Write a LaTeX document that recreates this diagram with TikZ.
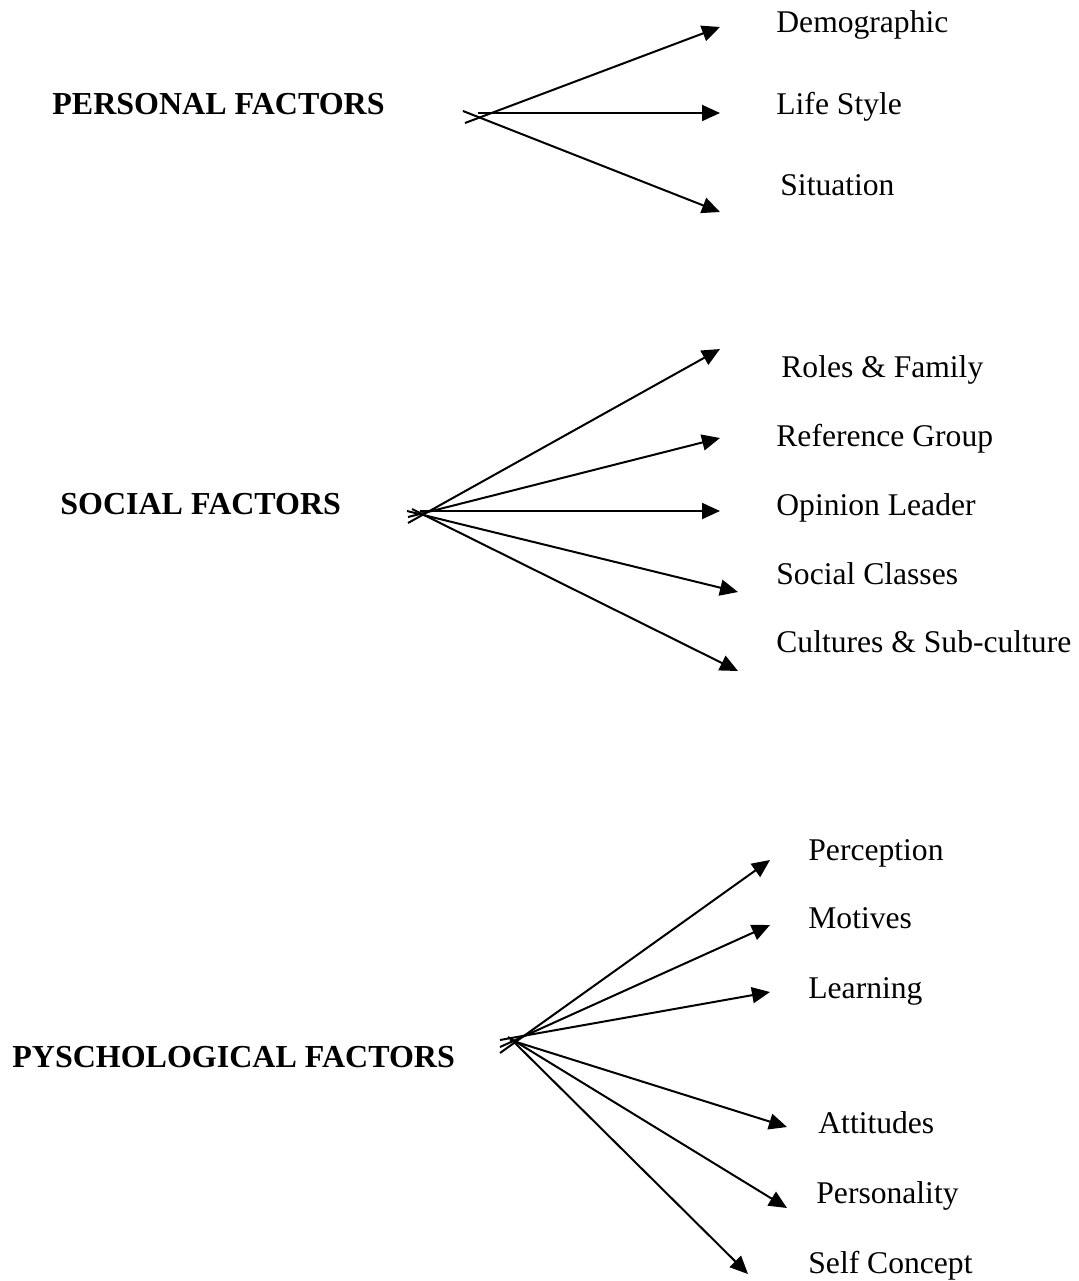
\documentclass[tikz,border=0pt]{standalone}
\usepackage{fontspec}
\setmainfont{Liberation Serif}
\usetikzlibrary{arrows.meta, positioning}

\tikzset{
    lbl/.style={anchor=base west, inner sep=0pt, font=\fontsize{15.8}{19}\selectfont},
    head/.style={lbl, font=\fontsize{16}{19}\selectfont\bfseries},
    fan/.style={line width=1pt, -{Triangle[length=9pt, width=8pt]}}
}

\begin{document}
\begin{tikzpicture}[x=0.5pt, y=-0.5pt]
        \useasboundingbox (0, 0) rectangle (1079, 1281);

        % personal
        \node[head] (pers) at (52, 114) {PERSONAL FACTORS};
        \node[lbl] (demo) at (776, 32) {Demographic};
        \node[lbl] (life) at (776, 114) {Life Style};
        \node[lbl] (situ) at (780, 195) {Situation};

        \coordinate (p1) at (465, 123);
        \coordinate (p2) at (478, 113);
        \coordinate (p3) at (463, 111);
        \coordinate (t1) at (720, 27);
        \coordinate (t2) at (720, 113);
        \coordinate (t3) at (720, 212);

        \draw[fan] (p1) to (t1);
        \draw[fan] (p2) to (t2);
        \draw[fan] (p3) to (t3);

        % social
        \node[head] (soc) at (60, 514) {SOCIAL FACTORS};
        \node[lbl] (role) at (781, 377) {Roles \& Family};
        \node[lbl] (refg) at (776, 446) {Reference Group};
        \node[lbl] (opin) at (776, 515) {Opinion Leader};
        \node[lbl] (clas) at (776, 584) {Social Classes};
        \node[lbl] (cult) at (776, 652) {Cultures \& Sub-culture};

        \coordinate (s1) at (408, 523);
        \coordinate (s2) at (408, 517);
        \coordinate (s3) at (420, 511);
        \coordinate (s4) at (407, 511);
        \coordinate (s5) at (412, 509);
        \coordinate (u1) at (720, 349);
        \coordinate (u2) at (720, 438);
        \coordinate (u3) at (720, 511);
        \coordinate (u4) at (738, 592);
        \coordinate (u5) at (738, 671);

        \draw[fan] (s1) to (u1);
        \draw[fan] (s2) to (u2);
        \draw[fan] (s3) to (u3);
        \draw[fan] (s4) to (u4);
        \draw[fan] (s5) to (u5);

        % psychological
        \node[head] (psy) at (12, 1067) {PYSCHOLOGICAL FACTORS};
        \node[lbl] (perc) at (808, 860) {Perception};
        \node[lbl] (moti) at (808, 928) {Motives};
        \node[lbl] (lear) at (808, 998) {Learning};
        \node[lbl] (atti) at (818, 1133) {Attitudes};
        \node[lbl] (pers2) at (816, 1203) {Personality};
        \node[lbl] (self) at (808, 1273) {Self Concept};

        \coordinate (q1) at (500, 1053);
        \coordinate (q2) at (500, 1047);
        \coordinate (q3) at (500, 1040);
        \coordinate (q4) at (510, 1040);
        \coordinate (q5) at (508, 1037);
        \coordinate (q6) at (512, 1040);
        \coordinate (v1) at (770, 860);
        \coordinate (v2) at (770, 925);
        \coordinate (v3) at (770, 992);
        \coordinate (v4) at (787, 1127);
        \coordinate (v5) at (787, 1208);
        \coordinate (v6) at (748, 1274);

        \draw[fan] (q1) to (v1);
        \draw[fan] (q2) to (v2);
        \draw[fan] (q3) to (v3);
        \draw[fan] (q4) to (v4);
        \draw[fan] (q5) to (v5);
        \draw[fan] (q6) to (v6);
    \end{tikzpicture}
\end{document}
